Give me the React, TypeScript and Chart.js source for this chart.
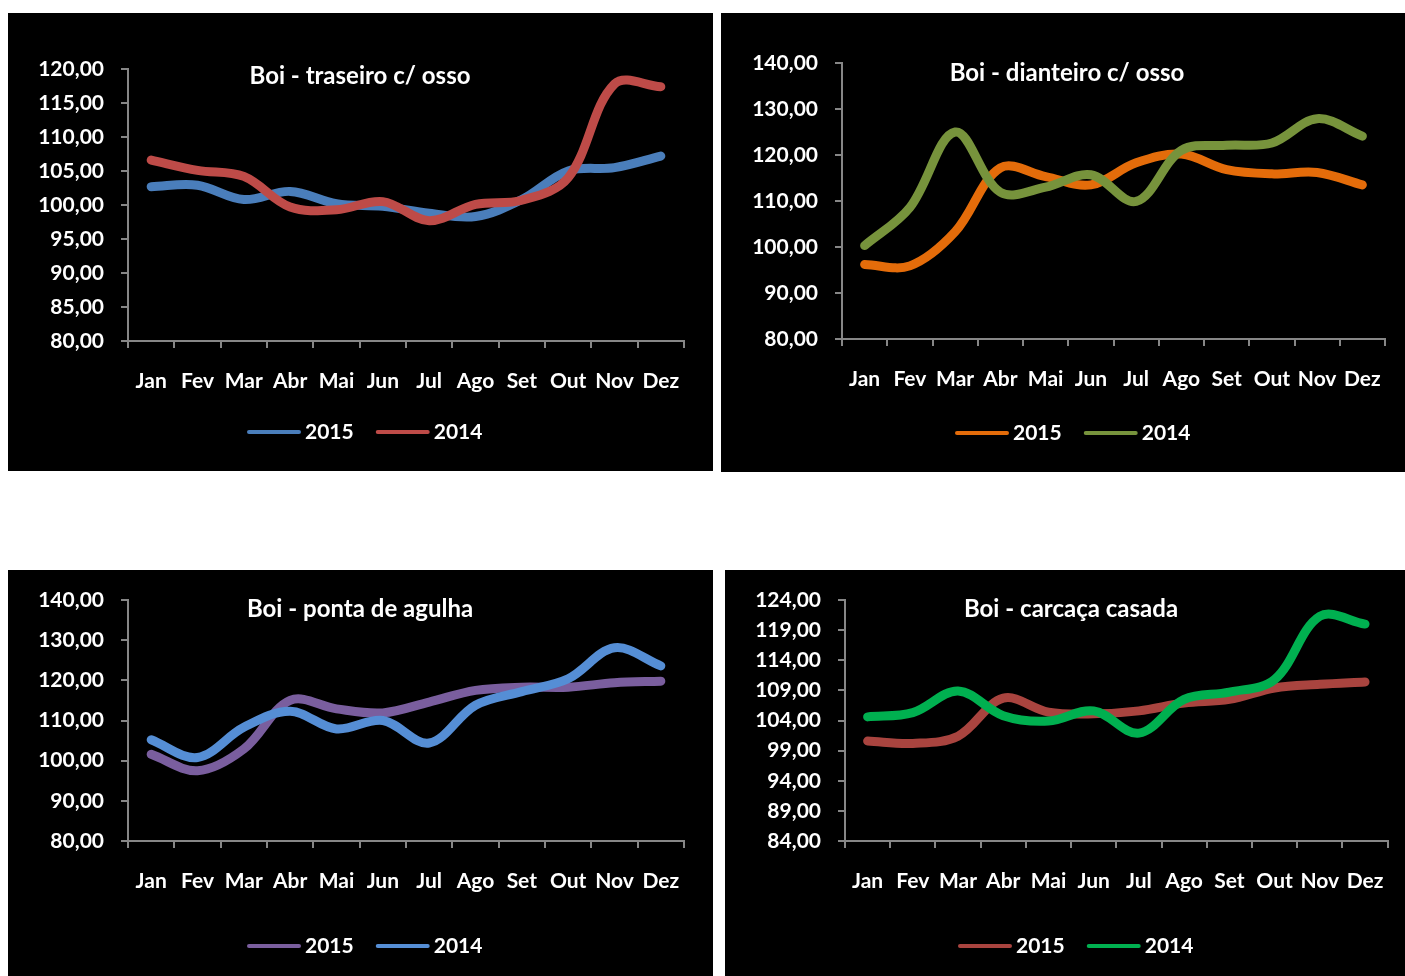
import React, { useEffect, useRef } from "react";
import { Chart, registerables } from "chart.js";

Chart.register(...registerables);

// Month categories shared by every panel
const MONTHS = ["Jan", "Fev", "Mar", "Abr", "Mai", "Jun", "Jul", "Ago", "Set", "Out", "Nov", "Dez"];
const YEAR_LABELS = ["2015", "2014"];

// Boi - traseiro c/ osso
const TRASEIRO_2015 = [102.7, 102.9, 100.8, 102.0, 100.2, 99.8, 98.8, 98.3, 100.8, 105.0, 105.5, 107.2];
const TRASEIRO_2014 = [106.6, 105.1, 104.2, 99.7, 99.3, 100.5, 97.7, 100.1, 100.7, 104.0, 117.8, 117.4];
const TRASEIRO_AXIS = [80, 120, 5];

// Boi - dianteiro c/ osso
const DIANTEIRO_2015 = [96.2, 95.9, 103.3, 117.2, 115.3, 113.5, 118.3, 120.2, 116.8, 115.9, 116.2, 113.5];
const DIANTEIRO_2014 = [100.3, 108.6, 125.0, 111.9, 113.0, 115.7, 109.9, 121.0, 122.1, 122.6, 127.9, 124.1];
const DIANTEIRO_AXIS = [80, 140, 10];

// Boi - ponta de agulha
const AGULHA_2015 = [101.6, 97.5, 102.9, 115.0, 112.9, 111.9, 114.6, 117.5, 118.3, 118.3, 119.4, 119.8];
const AGULHA_2014 = [105.2, 100.8, 108.3, 112.3, 107.9, 110.0, 104.4, 113.8, 117.2, 120.4, 128.1, 123.6];
const AGULHA_AXIS = [80, 140, 10];

// Boi - carcaça casada
const CARCACA_2015 = [100.6, 100.2, 101.4, 107.7, 105.4, 105.1, 105.6, 106.9, 107.5, 109.4, 110.0, 110.4];
const CARCACA_2014 = [104.6, 105.3, 108.9, 104.8, 103.9, 105.6, 101.9, 107.5, 108.7, 110.8, 121.3, 120.0];
const CARCACA_AXIS = [84, 124, 5];

const FONT = "Lato, 'Open Sans', sans-serif";
const AXIS_GRAY = "#868686";

type PanelSpec = {
  title: string;
  s2015: number[];
  s2014: number[];
  axis: number[];
  colors: [string, string];
  left: number;
  top: number;
  width: number;
  height: number;
  plotLeft: number;
  plotRight: number;
  plotTop: number;
  plotBottom: number;
  titleX: number;
  titleY: number;
  legendX: number;
  legendY: number;
};

const PANELS: PanelSpec[] = [
  {
    title: "Boi - traseiro c/ osso",
    s2015: TRASEIRO_2015,
    s2014: TRASEIRO_2014,
    axis: TRASEIRO_AXIS,
    colors: ["#4A7EBB", "#BE4B48"],
    left: 8, top: 13, width: 705, height: 458,
    plotLeft: 120, plotRight: 676, plotTop: 56, plotBottom: 328,
    titleX: 352, titleY: 63, legendX: 239, legendY: 419,
  },
  {
    title: "Boi - dianteiro c/ osso",
    s2015: DIANTEIRO_2015,
    s2014: DIANTEIRO_2014,
    axis: DIANTEIRO_AXIS,
    colors: ["#E46C0A", "#77933C"],
    left: 721, top: 13, width: 684, height: 459,
    plotLeft: 121, plotRight: 664, plotTop: 50, plotBottom: 326,
    titleX: 346, titleY: 60, legendX: 234, legendY: 420,
  },
  {
    title: "Boi - ponta de agulha",
    s2015: AGULHA_2015,
    s2014: AGULHA_2014,
    axis: AGULHA_AXIS,
    colors: ["#7A5E9E", "#558ED5"],
    left: 8, top: 570, width: 705, height: 406,
    plotLeft: 120, plotRight: 676, plotTop: 30, plotBottom: 271,
    titleX: 352, titleY: 39, legendX: 239, legendY: 376,
  },
  {
    title: "Boi - carcaça casada",
    s2015: CARCACA_2015,
    s2014: CARCACA_2014,
    axis: CARCACA_AXIS,
    colors: ["#A9443F", "#00B050"],
    left: 725, top: 570, width: 680, height: 406,
    plotLeft: 120, plotRight: 665, plotTop: 30, plotBottom: 271,
    titleX: 346, titleY: 39, legendX: 233, legendY: 376,
  },
];

const X_AXIS_HEIGHT = 60;

// Title inside the plot and a line-sample legend under the axis
const panelDecor = {
  id: "panelDecor",
  afterDraw(chart: any, _args: any, opts: any) {
    const ctx = chart.ctx;
    ctx.save();
    ctx.fillStyle = "#ffffff";
    ctx.textBaseline = "middle";
    ctx.textAlign = "center";
    ctx.font = `bold 24px ${FONT}`;
    ctx.fillText(opts.title, opts.titleX, opts.titleY);

    ctx.textAlign = "left";
    ctx.font = `bold 21px ${FONT}`;
    let x = opts.legendX;
    const y = opts.legendY;
    chart.data.datasets.forEach((ds: any) => {
      ctx.strokeStyle = ds.borderColor;
      ctx.lineWidth = 4;
      ctx.lineCap = "round";
      ctx.beginPath();
      ctx.moveTo(x + 2, y);
      ctx.lineTo(x + 52, y);
      ctx.stroke();
      x += 58;
      ctx.fillStyle = "#ffffff";
      ctx.fillText(ds.label, x, y);
      x += ctx.measureText(ds.label).width + 22;
    });
    ctx.restore();
  },
};

function Panel({ spec }: { spec: PanelSpec }) {
  const ref = useRef<HTMLCanvasElement | null>(null);

  useEffect(() => {
    if (!ref.current) return;
    const [yMin, yMax, yStep] = spec.axis;
    const tickFont = { family: FONT, size: 21, weight: "bold" as const };
    const lineStyle = {
      borderWidth: 9,
      pointRadius: 0,
      tension: 0.35,
      borderCapStyle: "round" as const,
      borderJoinStyle: "round" as const,
      fill: false,
    };
    const chart = new Chart(ref.current, {
      type: "line",
      data: {
        labels: MONTHS,
        datasets: [
          { ...lineStyle, label: YEAR_LABELS[0], data: spec.s2015, borderColor: spec.colors[0], order: 1 },
          { ...lineStyle, label: YEAR_LABELS[1], data: spec.s2014, borderColor: spec.colors[1], order: 0 },
        ],
      },
      options: {
        responsive: false,
        animation: false,
        devicePixelRatio: 1,
        events: [],
        layout: {
          padding: {
            left: 0,
            top: spec.plotTop,
            right: spec.width - spec.plotRight,
            bottom: spec.height - spec.plotBottom - X_AXIS_HEIGHT,
          },
        },
        plugins: {
          legend: { display: false },
          tooltip: { enabled: false },
          title: { display: false },
          panelDecor: {
            title: spec.title,
            titleX: spec.titleX,
            titleY: spec.titleY,
            legendX: spec.legendX,
            legendY: spec.legendY,
          },
        } as any,
        scales: {
          x: {
            type: "category",
            offset: true,
            grid: {
              offset: true,
              drawOnChartArea: false,
              drawTicks: true,
              tickLength: 7,
              color: AXIS_GRAY,
              lineWidth: 2,
            },
            border: { display: true, color: AXIS_GRAY, width: 2 },
            ticks: {
              color: "#ffffff",
              font: tickFont,
              padding: 21,
              autoSkip: false,
              maxRotation: 0,
            },
            afterFit: (s: any) => {
              s.height = X_AXIS_HEIGHT;
            },
          },
          y: {
            min: yMin,
            max: yMax,
            grid: {
              drawOnChartArea: false,
              drawTicks: true,
              tickLength: 7,
              color: AXIS_GRAY,
              lineWidth: 2,
            },
            border: { display: true, color: AXIS_GRAY, width: 2 },
            ticks: {
              stepSize: yStep,
              color: "#ffffff",
              font: tickFont,
              padding: 17,
              callback: (v: any) => Number(v).toFixed(2).replace(".", ","),
            },
            afterFit: (s: any) => {
              s.width = spec.plotLeft;
            },
          },
        },
      },
      plugins: [panelDecor],
    });
    return () => chart.destroy();
  }, [spec]);

  return (
    <div
      style={{
        position: "absolute",
        left: spec.left,
        top: spec.top,
        width: spec.width,
        height: spec.height,
        background: "#000000",
      }}
    >
      <canvas ref={ref} width={spec.width} height={spec.height} style={{ display: "block" }} />
    </div>
  );
}

export default function App() {
  return (
    <div>
      {PANELS.map((p) => (
        <Panel key={p.title} spec={p} />
      ))}
    </div>
  );
}
